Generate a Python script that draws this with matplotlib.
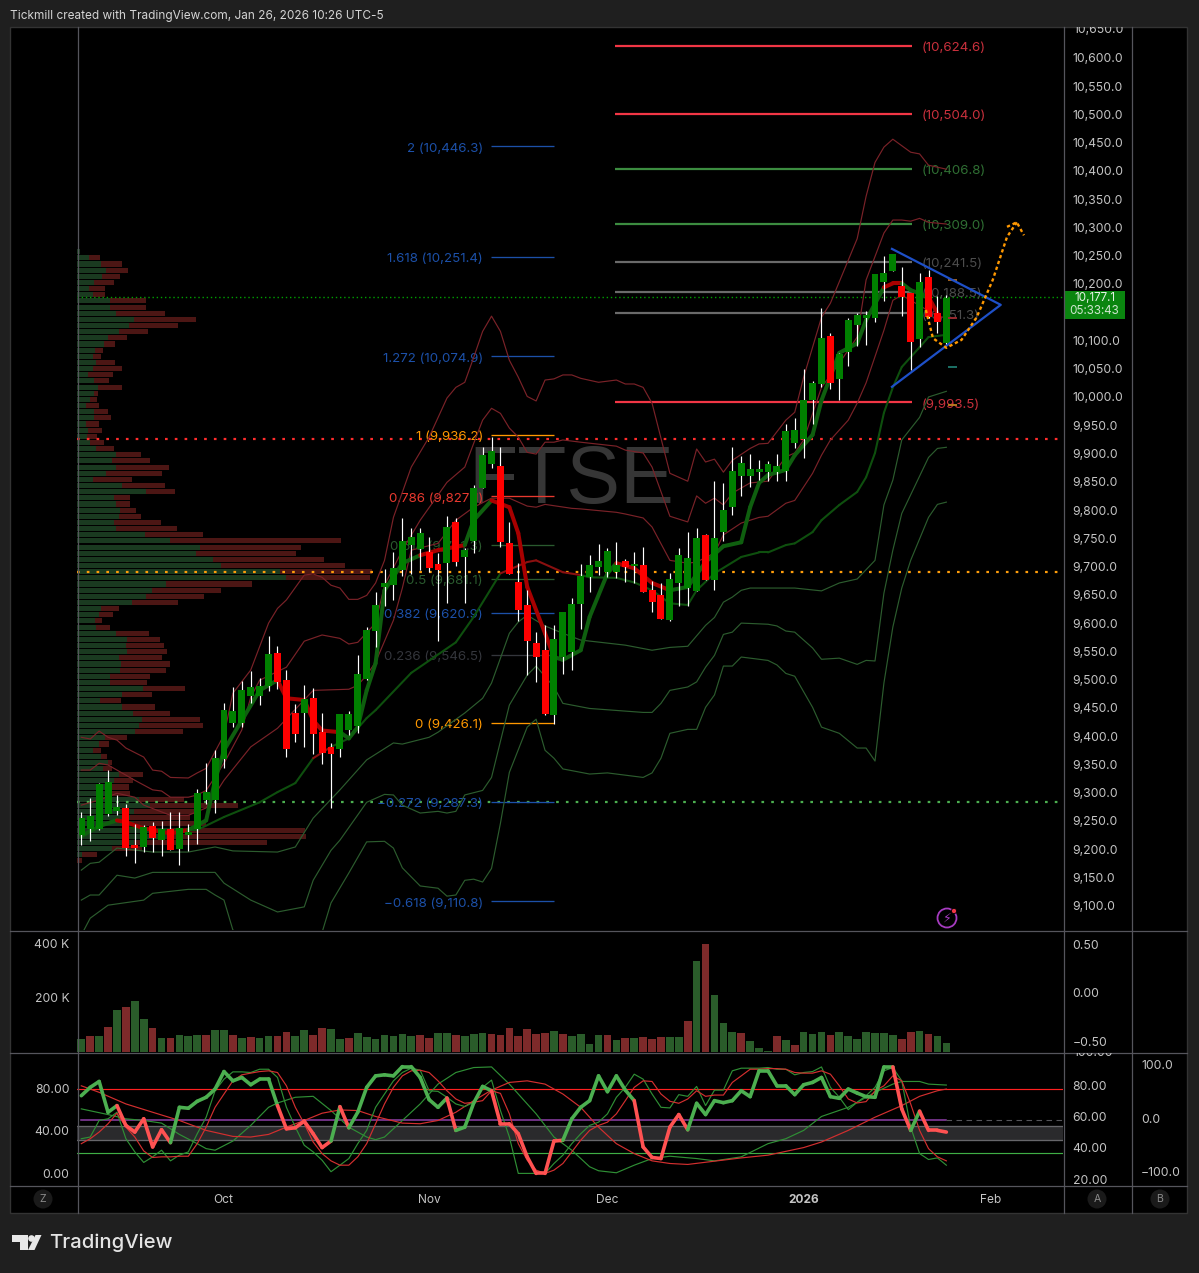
import numpy as np
import matplotlib
matplotlib.use('Agg')
import matplotlib.pyplot as plt
from matplotlib.collections import LineCollection
from matplotlib.patches import Circle, Polygon, Rectangle
from matplotlib.transforms import Bbox

plt.rcParams['font.family'] = ['Inter', 'DejaVu Sans']

W, H = 1199, 1273

####################################### candles
opens = [9225,9235,9235,9262,9268,9273,9207,9204,9241,9216,
         9236,9200,9226,9236,9287,9287,9360,9423,9423,9471,
         9471,9489,9547,9499,9441,9441,9467,9407,9381,9377,
         9411,9418,9501,9586,9664,9667,9694,9738,9731,9726,
         9705,9706,9779,9717,9745,9839,9881,9878,9742,9673,
         9632,9565,9552,9437,9540,9549,9634,9682,9699,9690,
         9690,9710,9701,9703,9659,9650,9605,9671,9662,9657,
         9756,9676,9761,9805,9860,9860,9867,9867,9867,9869,
         9919,9926,9995,10023,10108,10032,10080,10127,10140,10140,
         10203,10223,10196,10184,10103,10212,10149,10096]
closes = [9255,9259,9315,9319,9275,9202,9202,9240,9220,9236,
          9199,9238,9230,9299,9301,9361,9446,9445,9482,9487,
          9489,9545,9496,9377,9404,9466,9404,9370,9368,9439,
          9439,9510,9588,9632,9671,9697,9745,9752,9759,9697,
          9694,9770,9708,9729,9839,9897,9904,9743,9687,9623,
          9568,9540,9439,9572,9620,9634,9683,9703,9710,9728,
          9703,9699,9705,9655,9637,9607,9678,9720,9715,9751,
          9676,9751,9800,9869,9883,9873,9873,9881,9878,9940,
          9942,9995,10025,10104,10025,10076,10136,10145,10145,10218,
          10219,10253,10177,10097,10203,10141,10133,10175]
highs = [9266,9291,9318,9340,9296,9280,9245,9243,9248,9250,
         9266,9266,9245,9306,9353,9376,9459,9487,9498,9515,
         9503,9577,9560,9517,9457,9491,9485,9441,9388,9439,
         9445,9544,9593,9655,9696,9726,9786,9768,9768,9752,
         9724,9789,9786,9733,9844,9912,9929,9912,9779,9706,
         9659,9584,9597,9597,9620,9644,9705,9720,9740,9733,
         9743,9713,9726,9735,9674,9671,9689,9733,9761,9768,
         9758,9851,9848,9911,9896,9899,9889,9887,9899,9952,
         9963,10049,10028,10157,10113,10078,10140,10149,10152,10218,
         10249,10253,10230,10184,10219,10225,10179,10180]
lows = [9207,9215,9234,9259,9261,9188,9176,9195,9195,9188,
        9198,9172,9197,9209,9280,9264,9344,9416,9416,9459,
        9455,9480,9484,9363,9390,9381,9368,9351,9273,9363,
        9402,9406,9499,9558,9630,9641,9683,9687,9694,9690,
        9568,9636,9701,9636,9724,9839,9874,9735,9687,9604,
        9508,9496,9437,9422,9510,9517,9590,9655,9685,9682,
        9680,9673,9671,9655,9620,9607,9604,9630,9630,9657,
        9676,9659,9745,9791,9825,9841,9853,9851,9851,9851,
        9910,9892,9952,10018,10014,9995,10055,10090,10092,10133,
        10170,10222,10143,10048,10088,10140,10113,10092]

####################################### volume
volume = [48,59,59,91,156,167,189,122,89,52,52,62,59,62,62,81,81,62,52,54,
          52,59,59,74,59,81,62,89,85,48,52,70,54,48,62,59,67,59,62,52,
          70,70,62,59,67,70,67,62,89,59,85,67,70,78,67,59,67,30,62,
          63,44,52,52,56,48,56,56,56,115,337,400,211,107,74,70,41,15,4,59,
          44,26,74,67,74,63,74,59,48,74,70,70,63,48,74,78,67,59,33]
vol_colors = 'GRGRGRGGRGRGGGRGGRGRGGRRGGRRGGRGGGGGGGRRGGRGGGRRRRRRRGRGGGG' \
             'RGRGRRRGGRGRGGGRGGGRGRGGGRGGGGGGGRRGRGG'

####################################### bands: (bar index, price)
upper3_idx = [0,1,2,3,4,5,7,8,9,10,12,13,14,16,17,19,21,22,23,25,26,27,28,29,30,31,32,33,34,35,37,39,41,42,43,44,45,46,47,48,49,50,51,52,53,54,55,56,58,60,61,62,63,64,66,68,69,70,71,72,73,75,76,77,79,80,81,82,83,84,86,87,88,89,90,91,93,94,95,97]
upper3_val = [9398,9395,9409,9398,9393,9379,9363,9340,9338,9327,9326,9335,9343,9402,9476,9517,9600,9626,9641,9685,9687,9681,9667,9662,9642,9642,9649,9671,9711,9787,9876,9929,9998,10017,10026,10070,10116,10143,10116,10065,10035,10001,9993,10030,10032,10039,10039,10033,10026,10030,10023,10023,10017,9989,9865,9851,9908,9885,9890,9867,9888,9909,9917,9918,9959,9973,10035,10088,10141,10166,10242,10280,10355,10415,10442,10456,10433,10430,10410,10403]
upper2_idx = [0,1,2,3,4,6,8,9,10,12,13,14,16,18,19,20,23,25,27,29,30,31,33,34,36,38,41,43,44,45,46,47,48,49,50,51,52,53,54,56,60,61,63,64,66,68,69,70,71,72,73,75,77,79,80,81,83,85,87,88,90,91,92,93,94,95,97]
upper2_val = [9340,9340,9352,9349,9340,9322,9305,9303,9292,9292,9296,9304,9352,9411,9469,9499,9522,9568,9579,9573,9563,9566,9600,9667,9729,9782,9849,9876,9918,9959,9980,9971,9945,9929,9902,9899,9920,9920,9924,9920,9913,9906,9901,9876,9789,9779,9825,9812,9821,9809,9830,9848,9851,9894,9901,9924,10017,10060,10106,10207,10290,10313,10313,10311,10316,10309,10306]
upper1_idx = [0,2,4,6,7,10,12,14,16,19,22,26,30,31,32,33,35,36,37,40,42,44,46,48,50,51,52,55,56,60,61,63,64,66,68,69,71,72,74,76,77,79,80,82,83,84,86,87,88,90,91,92,93,96,97]
upper1_val = [9278,9287,9299,9292,9278,9260,9260,9273,9322,9381,9414,9481,9483,9490,9508,9531,9605,9662,9729,9741,9782,9805,9821,9821,9807,9805,9810,9803,9802,9796,9793,9786,9770,9711,9706,9708,9724,9756,9777,9787,9789,9812,9817,9865,9897,9924,9959,9989,10025,10118,10171,10180,10171,10143,10140]
lower1_idx = [0,1,2,4,8,12,15,17,22,24,26,29,32,35,36,39,40,43,45,46,48,49,50,52,54,56,61,64,66,68,70,71,72,73,74,75,80,83,85,87,89,90,91,92,94,95,97]
lower1_val = [9163,9175,9177,9202,9195,9195,9204,9197,9195,9204,9255,9305,9358,9388,9386,9398,9407,9441,9467,9494,9582,9602,9614,9595,9582,9570,9561,9552,9557,9559,9596,9610,9637,9646,9658,9662,9662,9657,9671,9678,9711,9809,9853,9924,9964,10000,10010]
lower2_idx = [0,1,2,4,6,8,15,16,19,22,25,26,28,29,32,34,35,36,38,40,41,42,43,45,46,48,50,51,53,54,57,63,64,65,66,68,69,70,71,72,73,74,77,78,79,80,82,83,85,87,88,89,90,91,92,95,96,97]
lower2_val = [9110,9119,9119,9154,9149,9159,9159,9140,9110,9089,9098,9145,9198,9216,9283,9297,9296,9278,9264,9267,9264,9267,9296,9304,9327,9455,9508,9524,9487,9458,9449,9442,9442,9458,9481,9487,9496,9522,9543,9580,9584,9600,9598,9595,9586,9584,9556,9536,9538,9527,9534,9533,9653,9729,9794,9893,9909,9911]
lower3_idx = [0,1,3,7,8,12,14,15,16,17,22,27,28,30,32,34,35,36,38,40,41,42,43,44,45,46,47,48,50,51,52,53,54,57,59,63,64,65,66,68,69,70,71,72,73,74,77,78,79,80,82,83,85,87,88,89,90,91,92,93,95,96,97]
lower3_val = [9048,9078,9101,9110,9122,9129,9129,9119,9110,9057,9022,9053,9105,9158,9213,9214,9202,9167,9135,9131,9117,9119,9145,9147,9142,9166,9246,9336,9416,9430,9375,9361,9342,9333,9335,9327,9335,9361,9405,9412,9412,9451,9473,9524,9524,9540,9534,9526,9511,9506,9451,9416,9405,9379,9379,9356,9494,9593,9662,9711,9787,9810,9814]
mid_idx = [0,2,4,5,8,13,16,20,22,24,26,28,30,32,33,37,42,44,47,50,51,54,56,57,60,62,64,66,68,69,71,74,76,77,79,80,82,83,85,87,88,89,90,91,92,94,95,97]
mid_val = [9225,9239,9255,9239,9234,9234,9257,9283,9301,9317,9361,9381,9396,9432,9446,9512,9566,9611,9688,9708,9711,9690,9685,9681,9680,9672,9658,9635,9632,9658,9688,9717,9725,9725,9738,9741,9761,9782,9809,9832,9858,9901,9972,10017,10053,10088,10106,10110]
mid_red = [(26, 28), (47, 56)]
ema_idx = [0,2,4,5,7,10,12,14,15,16,18,20,22,23,25,26,27,29,30,31,32,33,34,36,38,40,43,44,46,48,49,50,52,53,54,56,57,59,60,62,64,66,68,70,72,74,75,76,77,79,80,82,83,85,87,88,90,91,92,93,95,96]
ema_val = [9223,9241,9251,9248,9237,9228,9234,9251,9322,9375,9428,9481,9499,9467,9464,9428,9410,9407,9396,9416,9481,9529,9658,9706,9720,9729,9738,9782,9817,9805,9759,9664,9582,9540,9535,9552,9611,9688,9706,9697,9671,9658,9664,9708,9736,9743,9805,9848,9862,9871,9897,9933,9994,10078,10095,10136,10194,10201,10201,10189,10177,10148]
ema_red = [(3, 12), (22, 29), (38, 43), (46, 53), (60, 66), (90, 92), (94, 96)]

####################################### volume profile, row lengths from top
vp_green = [10,35,72,87,75,50,35,47,100,100,117,171,155,125,93,80,53,47,57,47,33,50,62,50,40,28,50,50,26,33,30,38,56,118,105,116,87,47,135,207,110,117,128,125,112,118,203,279,369,358,407,431,609,627,267,225,207,
            165,72,65,53,57,118,150,148,150,126,132,129,100,100,198,135,68,135,168,195,186,174,85,65,48,72,93,78,125,112,105,100,185,220,170,160,170,275,270,170,105,15,0]
vp_total = [10,68,135,153,129,111,84,84,207,207,264,357,303,213,150,114,78,72,114,135,108,96,135,63,60,66,93,102,66,75,60,81,111,192,219,276,255,165,264,294,159,159,177,192,252,300,378,792,672,657,741,804,885,879,525,432,381,
            303,126,108,75,99,216,249,261,270,255,279,267,219,210,324,225,132,234,279,369,378,318,150,96,72,90,105,105,198,168,156,158,321,483,360,340,387,684,687,570,195,60,15]

####################################### oscillator pane
rsi_main = [73.4,81.3,86.9,57.7,64,45.2,38.9,51.5,24.8,41.1,28.9,62.4,61.5,68.1,71.9,79.7,96.3,87.5,90.7,83.8,89.1,89.1,64,42,43,49.3,37.3,24.2,30.4,63,43,57.7,81.3,92.2,93.2,92.2,101,101,90.7,69.7,62.4,71.2,40.5,43.6,66.5,82.2,78.1,46.8,46.8,37.3,15.4,-0.3,-0.3,30.4,31.1,51.5,62.4,68.7,92.2,
            77.2,92.2,78.7,68.7,24.8,14.8,13.8,43.6,55.5,41.1,66.2,55.5,68.7,66.8,68.7,78.1,72.5,97,97,82.8,82.8,74.4,83.8,86,90.7,72.5,70.9,79.7,75.9,72.5,71.9,100.7,100.7,60.9,40.5,58.7,40.5,40.5,38.9]
rsi_red = [(4, 10), (22, 28), (29, 30), (41, 42), (46, 54), (62, 68), (91, 93), (94, 97)]
stoch_k = [32.6,34.2,49.9,51.5,57.7,32.6,20.1,10.1,15.4,21.7,11.6,17,20.1,37.3,53,78.1,89.1,96,96,95.4,98.5,98.5,90.7,62.4,43.6,26.4,20.1,12.2,1.3,7.5,13.8,27.9,40.5,62.4,75,87.5,95.4,99.5,97.6,78.1,77.5,71.9,65.6,63.1,67.2,81.3,88.2,59.3,34.2,-0.3,-0.3,-0.3,-0.3,9.1,17,27.9,37.3,45.2,48.3,
           56.2,71.9,81.3,93.8,89.1,75,62.4,61.8,74.4,72.8,82.2,64,78.7,78.7,97,99.5,99.5,99.5,100.1,98.5,98.5,93.2,95.4,96.3,100.7,81.3,71.9,60.2,67.2,73.4,81.3,97,100.1,87.5,43.6,18.5,12.9,14.4,7.5]
stoch_d = [27.9,32.6,38.9,46.8,56.8,43.6,34.2,21,14.8,15.4,15.4,16,16,27.9,43.6,62.4,75,87.5,93.2,94.8,96.3,97,95.4,82.8,62.4,46.8,29.5,18.5,11.6,7.5,7.5,15.4,27.9,46.8,65.6,81.3,92.2,97,97.6,95.4,87.5,78.1,70.3,66.2,67.2,68.7,78.1,75.6,56.2,27.9,12.2,2.8,-0.3,2.8,9.1,20.1,31.1,40.5,45.2,
           48.3,56.2,68.7,81.3,87.5,86.9,75,68.1,66.2,70.3,78.1,72.8,74,74,86,92.2,98.5,98.5,99.1,99.1,98.5,95.4,94.8,94.8,97,93.8,82.8,70.3,66.5,67.8,78.1,82.8,92.2,87.5,65.6,40.5,23.2,15.4,11.6]
long_g_idx = [0,3,5,7,9,11,13,14,15,17,19,21,22,24,26,28,30,32,33,34,36,38,40,42,44,46,48,51,53,55,57,58,60,62,64,66,69,71,74,77,79,81,83,86,89,91,92,94,95,97]
long_g_val = [60.9,55.5,51.5,49.9,47.4,36.7,27.9,23.2,21.7,30.4,45.2,62.4,66.5,71.9,72.8,59.3,43.6,34.2,31.7,34.2,49.9,65.6,84.4,95.4,100.1,100.7,84.4,56.2,34.2,21.7,6,2.2,0.3,7.5,13.8,16,13.8,11.6,15.4,27.9,32.6,40.5,53.7,62.4,76.6,84.4,86.9,86.9,84.4,83.5]
long_r_idx = [0,2,5,8,11,14,17,19,21,23,25,27,29,31,33,36,38,40,42,44,46,48,50,52,54,56,58,60,62,64,66,68,71,74,77,81,83,86,89,92,94,96,97]
long_r_val = [82.8,76.6,65.6,57.7,49.9,40.5,34.8,34.2,36.7,43.6,49.9,56.8,59.9,59.3,53.7,47.4,46.8,49.9,57.7,68.7,78.7,86,87.5,84.4,75,62.4,43.6,27.9,18.5,11.6,9.1,8.2,11.3,14.4,17,24.2,29.5,40.5,53,64,72.8,78.1,79.7]

####################################### levels and labels
fib_left_levels = [10443.2,10248,10071.7,9933,9824,9738,9678,9617.7,9543.3,9423,9284,9107.7]
fib_left_labels = ['2 (10,446.3)','1.618 (10,251.4)','1.272 (10,074.9)','1 (9,936.2)','0.786 (9,827.1)','0.618 (9,741.3)',
                   '0.5 (9,681.1)','0.382 (9,620.9)','0.236 (9,546.5)','0 (9,426.1)','\u22120.272 (9,287.3)','\u22120.618 (9,110.8)']
fib_left_colors = ['#1c50a8','#1c50a8','#1c50a8','#ff9800','#e8392f','#2a5a2e','#2a5a2e','#1c50a8','#34363c','#ff9800','#1c50a8','#1c50a8']
fib_right_levels = [10621.5,10501,10403.7,10306,10238.5,10185.5,10148,9990.5]
fib_right_labels = ['(10,624.6)','(10,504.0)','(10,406.8)','(10,309.0)','(10,241.5)','(10,188.5)','(10,151.3)','(9,993.5)']
fib_right_colors = ['#f23645','#f23645','#3c8c40','#3c8c40','#6a6a6a','#6a6a6a','#6a6a6a','#f23645']
fib_right_text = ['#c9303c','#c9303c','#2f6f33','#2f6f33','#4c4c4c','#4c4c4c','#4c4c4c','#c9303c']
dotted_levels = [9925, 9690, 9283]
dotted_colors = ['#ff2d2d', '#ff9d0a', '#4caf50']
tick_levels = [10207, 10140, 10053, 9986]
tick_colors = ['#b06a20', '#a02a30', '#1f7a6e', '#c08020']
wedge_idx = [90.9, 103.1, 90.9]
wedge_val = [10262, 10163, 10018]
path_idx = [94.7,95.5,97,98.7,100.4,102.2,103.8,104.9]
path_val = [10154,10104,10087,10101,10141,10207,10283,10309]
arrow_idx = [103.8,104.9,105.7]
arrow_val = [10301,10309,10286]
last_price = 10177

price_ticks = list(range(9100, 10601, 50))
vol_ticks = [200, 400]
vol_ticklabels = ['200 K', '400 K']
vol_right_ticks = [-0.5, 0, 0.5]
osc_left_ticks = [0, 40, 80]
osc_right_ticks = [20, 40, 60, 80]
month_pos = [15.9, 39, 59, 81, 102]
month_labels = ['Oct', 'Nov', 'Dec', '2026', 'Feb']

####################################### layout
BG = '#1f1f1f'
TXT = '#c4c4c4'
SEP = '#55555c'
XL = (-0.482, 110.08)
FS = 8.8
FIB_FS = 9.6

def box(x0, y0, x1, y1):
    return [x0 / W, 1 - y1 / H, (x1 - x0) / W, (y1 - y0) / H]

def spans_mask(idx, spans):
    return [any(a <= m < b for a, b in spans) for m in idx[:-1]]

def two_tone(ax, idx, val, spans, c_up, c_dn, lw, z):
    pts = np.column_stack([idx, val])
    segs = np.stack([pts[:-1], pts[1:]], axis=1)
    cols = [c_dn if r else c_up for r in spans_mask(idx, spans)]
    ax.add_collection(LineCollection(segs, colors=cols, linewidths=lw, zorder=z, capstyle='round'))

fig = plt.figure(figsize=(W / 100, H / 100), dpi=100, facecolor=BG)

ax_bg = fig.add_axes([0, 0, 1, 1], zorder=-5)
ax_bg.set_xlim(0, W)
ax_bg.set_ylim(H, 0)
ax_bg.axis('off')
ax_bg.add_patch(Rectangle((10, 27), 1177, 1186, fc='black', ec='#333333', lw=1))

# volume profile sits behind the price pane
ax_vp = fig.add_axes(box(77, 27, 1063, 930), zorder=1)
ax_vp.patch.set_visible(False)
ax_vp.axis('off')
ax_vp.set_xlim(0, 986 * 3)
ax_vp.set_ylim(9057.1, 10654.5)
vp_y = 10257 - 10.885 * np.arange(len(vp_green))
vg = np.array(vp_green)
vt = np.array(vp_total)
ax_vp.barh(vp_y, vg, height=9.0, color='#1a3a20', lw=0)
ax_vp.barh(vp_y, vt - vg, left=vg, height=9.0, color='#4c1614', lw=0)

ax = fig.add_axes(box(77, 27, 1063, 930), zorder=2)
ax.patch.set_visible(False)
ax.set_xlim(*XL)
ax.set_ylim(9057.1, 10654.5)
for s in ax.spines.values():
    s.set_visible(False)
ax.set_xticks([])
ax.yaxis.tick_right()
ax.set_yticks(price_ticks)
ax.set_yticklabels([f'{p:,.1f}' for p in price_ticks], fontsize=FS, color=TXT)
ax.tick_params(axis='y', length=0, pad=7)

ax.text(54.9, 9850, 'FTSE', fontsize=58, color='#363636', ha='center', va='center',
        family=['Liberation Sans'], zorder=0)

for lv, c in zip(dotted_levels, dotted_colors):
    ax.axhline(lv, color=c, lw=1.6, ls=(0, (1.2, 3.2)), zorder=1)
ax.axhline(last_price, color='#00a000', lw=1.0, ls=(0, (1, 2)), zorder=1)

ax.hlines(fib_left_levels, 45.94, 53.0, colors=fib_left_colors, lw=0.95, zorder=2)
for lv, lab, c in zip(fib_left_levels, fib_left_labels, fib_left_colors):
    ax.text(45.05, lv - 4, lab, color=c, fontsize=FIB_FS, ha='right', va='center', zorder=2)
ax.hlines(fib_right_levels, 59.85, 93.15, colors=fib_right_colors, lw=1.6, zorder=2)
for lv, lab, c in zip(fib_right_levels, fib_right_labels, fib_right_text):
    ax.text(94.2, lv - 4, lab, color=c, fontsize=FIB_FS, ha='left', va='center', zorder=2)

for i_, v_, c in [(upper3_idx, upper3_val, '#7a2228'), (upper2_idx, upper2_val, '#7a2228'),
                  (upper1_idx, upper1_val, '#7a2228'), (lower1_idx, lower1_val, '#2c5c2e'),
                  (lower2_idx, lower2_val, '#2c5c2e'), (lower3_idx, lower3_val, '#2c5c2e')]:
    ax.plot(i_, v_, color=c, lw=0.85, zorder=3, solid_joinstyle='round')

two_tone(ax, mid_idx, mid_val, mid_red, '#0e4f0e', '#8a1010', 1.5, 3)
two_tone(ax, ema_idx, ema_val, ema_red, '#0f5f0f', '#a80000', 2.9, 3.2)

x = np.arange(len(opens))
up = np.array(closes) >= np.array(opens)
body_low = np.minimum(opens, closes)
body_h = np.abs(np.array(closes) - np.array(opens))
ax.vlines(x, lows, highs, color='white', lw=0.85, zorder=4)
ax.bar(x, body_h, bottom=body_low, width=0.78, color=['#008000' if u else '#ff0000' for u in up], lw=0, zorder=5)

ax.hlines(tick_levels, 97.2, 98.2, colors=tick_colors, lw=1.3, zorder=6)
ax.plot(wedge_idx, wedge_val, color='#1e50c8', lw=1.6, zorder=7)
ax.plot(path_idx, path_val, color='#ff9800', lw=1.7, ls=(0, (1.4, 1.2)), zorder=7)
ax.plot(arrow_idx, arrow_val, color='#ff9800', lw=1.7, ls=(0, (1.4, 1.2)), zorder=7)

# volume pane
ax_vol = fig.add_axes(box(77, 931, 1063, 1052), zorder=2)
ax_vol.patch.set_visible(False)
ax_vol.set_xlim(*XL)
ax_vol.set_ylim(0, 448)
ax_vol.bar(x, volume, width=0.86, lw=0, color=['#2a5c2a' if c == 'G' else '#7d2a2a' for c in vol_colors])
ax_vol.set_xticks([])
ax_vol.set_yticks(vol_ticks)
ax_vol.set_yticklabels(vol_ticklabels, fontsize=FS, color=TXT)
ax_vol.tick_params(axis='y', length=0, pad=5.5)
ax_vol2 = ax_vol.twinx()
ax_vol2.set_ylim(-0.608, 0.634)
ax_vol2.set_yticks(vol_right_ticks)
ax_vol2.set_yticklabels(['\u22120.50', '0.00', '0.50'], fontsize=FS, color=TXT)
ax_vol2.tick_params(axis='y', length=0, pad=7)
for a in (ax_vol, ax_vol2):
    for s in a.spines.values():
        s.set_visible(False)

# oscillator pane
ax_osc = fig.add_axes(box(77, 1053, 1063, 1185), zorder=2)
ax_osc.patch.set_visible(False)
ax_osc.set_xlim(*XL)
ax_osc.set_ylim(-11.3, 113.9)
ax_osc.axhspan(31, 44.2, color='#2a2a2c', lw=0, zorder=1)
ax_osc.axhline(44.2, color='#66666a', lw=0.95, zorder=1.5)
ax_osc.axhline(31, color='#66666a', lw=0.95, zorder=1.5)
ax_osc.axhline(79.4, color='#ff2020', lw=0.85, zorder=1.5)
ax_osc.axhline(19.5, color='#3fae45', lw=0.85, zorder=1.5)
ax_osc.plot([0, 97], [50, 50], color='#8e3fa8', lw=1.1, zorder=1.5)
ax_osc.plot([97, 110], [50, 50], color='#55555a', lw=0.8, ls=(0, (5, 4)), zorder=1.5)
ax_osc.plot(long_g_idx, long_g_val, color='#2f8f35', lw=0.85, zorder=2)
ax_osc.plot(long_r_idx, long_r_val, color='#d32f2f', lw=0.85, zorder=2)
ax_osc.plot(x, stoch_k, color='#2f8f35', lw=0.85, zorder=2)
ax_osc.plot(x, stoch_d, color='#d32f2f', lw=0.85, zorder=2)
two_tone(ax_osc, x, rsi_main, rsi_red, '#4caf50', '#ff5252', 2.6, 3)
ax_osc.set_xticks([])
ax_osc.set_yticks(osc_left_ticks)
ax_osc.set_yticklabels([f'{t:.2f}' for t in osc_left_ticks], fontsize=FS, color=TXT)
ax_osc.tick_params(axis='y', length=0, pad=5.5)
ax_osc2 = ax_osc.twinx()
ax_osc2.set_ylim(16.2, 100.6)
ax_osc2.set_yticks(osc_right_ticks)
ax_osc2.set_yticklabels([f'{t:.2f}' for t in osc_right_ticks], fontsize=FS, color=TXT)
ax_osc2.tick_params(axis='y', length=0, pad=7)
for a in (ax_osc, ax_osc2):
    for s in a.spines.values():
        s.set_visible(False)

# time axis
ax_t = fig.add_axes(box(77, 1186, 1063, 1213), zorder=2)
ax_t.patch.set_visible(False)
ax_t.set_xlim(*XL)
ax_t.set_yticks([])
ax_t.set_xticks(month_pos)
ax_t.set_xticklabels(month_labels, fontsize=8.6, color=TXT)
ax_t.xaxis.set_ticks_position('top')
ax_t.xaxis.set_label_position('top')
ax_t.tick_params(axis='x', length=0, pad=-14.7)
ax_t.get_xticklabels()[3].set_fontweight('bold')
for s in ax_t.spines.values():
    s.set_visible(False)

# pixel overlay: separators, badges, texts
ov = fig.add_axes([0, 0, 1, 1], zorder=10)
ov.set_xlim(0, W)
ov.set_ylim(H, 0)
ov.axis('off')
ov.patch.set_visible(False)
for xx in (77.5, 1063.5, 1131.5):
    ov.plot([xx, xx], [27, 1213], color=SEP, lw=0.9)
for yy in (930.5, 1052.5, 1185.5):
    ov.plot([10, 1187], [yy, yy], color=SEP, lw=0.9)

ov.text(10, 15.5, 'Tickmill created with TradingView.com, Jan 26, 2026 10:26 UTC-5', fontsize=8.5,
        color='#d4d4d4', va='center', ha='left')

# clipped labels at pane tops
t1 = ov.text(1073, 30, '10,650.0', fontsize=FS, color=TXT, va='center', ha='left')
t1.set_clip_on(True)
t1.set_clip_box(Bbox([[1064, H - 900], [1130, H - 27]]))
t2 = ov.text(1073, 1053, '100.00', fontsize=FS, color=TXT, va='center', ha='left')
t2.set_clip_on(True)
t2.set_clip_box(Bbox([[1064, H - 1185], [1130, H - 1053]]))

for yy, lab in [(1066, '100.0'), (1120, '0.0'), (1173, '\u2212100.0')]:
    ov.text(1141, yy, lab, fontsize=FS, color=TXT, va='center', ha='left')

# last price badge
ov.add_patch(Rectangle((1064, 291), 61, 28, fc='#0a850f', ec='none'))
ov.text(1094.5, 298, '10,177.1', fontsize=8.4, color='#e6f2e6', ha='center', va='center')
ov.text(1094.5, 311.5, '05:33:43', fontsize=8.4, color='#cfe6cf', ha='center', va='center')

for xx, lab in [(43, 'Z'), (1097, 'A'), (1160, 'B')]:
    ov.add_patch(Circle((xx, 1199), 9.5, fc='#1a1a1a', ec='none'))
    ov.text(xx, 1199, lab, fontsize=7.6, color='#8a8a8a', ha='center', va='center')

# purple flash badge
ov.add_patch(Circle((947, 918), 9.5, fc='none', ec='#a63bc0', lw=1.3))
ov.text(947, 918, '\u26a1', fontsize=9, color='#a63bc0', ha='center', va='center', family=['DejaVu Sans'])
ov.add_patch(Circle((954, 911), 2.6, fc='#f23645', ec='black', lw=0.6))

# logo
ov.add_patch(Polygon([(11.5, 1235), (27.5, 1235), (27.5, 1250), (19.5, 1250), (19.5, 1242), (11.5, 1242)], fc='#e8e8e8', ec='none'))
ov.add_patch(Circle((31.5, 1238.5), 3.3, fc='#e8e8e8', ec='none'))
ov.add_patch(Polygon([(35.5, 1235), (41.5, 1235), (34.5, 1250), (28, 1250)], fc='#e8e8e8', ec='none'))
ov.text(49, 1243, 'TradingView', fontsize=14.6, color='#e4e4e4', ha='left', va='center', fontweight='medium')

fig.savefig('out.png', dpi=100, facecolor=BG)
